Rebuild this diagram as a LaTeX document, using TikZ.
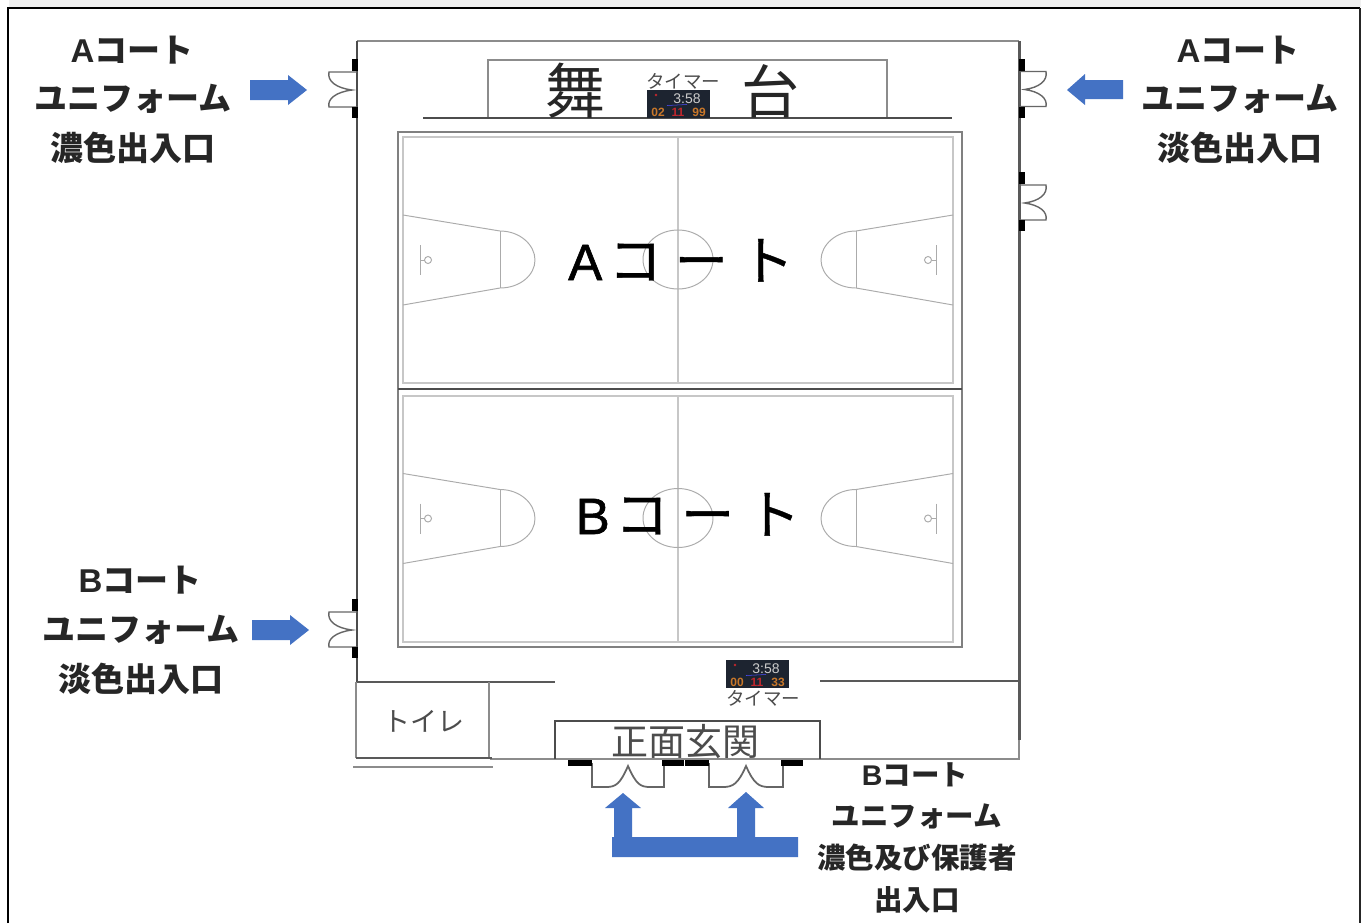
\documentclass[tikz,border=0pt]{standalone}
\usepackage{fontspec}
\setmainfont{Noto Sans CJK JP}
\newfontfamily\latinfont{Liberation Sans}
\newfontfamily\heavyfont[FakeBold=0.8]{Noto Sans CJK JP}
\newfontfamily\heavylatin[FakeBold=1.2]{Liberation Sans}
\definecolor{arrowblue}{HTML}{4472C4}
\definecolor{boardbg}{HTML}{1D2430}
\definecolor{boardor}{HTML}{C8772A}
\definecolor{boardred}{HTML}{C0272D}
\newcommand{\pxfont}[1]{\fontsize{\fpeval{#1*0.5691}pt}{\fpeval{#1*0.7}pt}\selectfont}
\newcommand{\bigcourt}[2]{{\heavylatin\pxfont{51}#1}\hspace{#2pt}{\heavyfont\pxfont{53}コ\hspace{7.4pt}ー\hspace{7.4pt}ト}}
\tikzset{
  x=0.02cm,y=-0.02cm,
  wall/.style={draw=black!70,line width=0.9pt},
  wallthin/.style={draw=black!45,line width=0.7pt},
  wallthick/.style={draw=black!65,line width=1.7pt},
  courtouter/.style={draw=black!50,line width=0.8pt},
  courtinner/.style={draw=black!22,line width=0.9pt},
  courtmark/.style={draw=black!33,line width=0.55pt},
  doorline/.style={draw=black!60,line width=0.8pt},
  doorbar/.style={fill=black},
  bluearrow/.style={fill=arrowblue},
  lab/.style={anchor=base,inner sep=0pt,font=\bfseries\pxfont{33},text=black!85},
  labsmall/.style={anchor=base,inner sep=0pt,font=\bfseries\pxfont{28.5},text=black!85},
  plain/.style={anchor=base,inner sep=0pt,text=black!80},
}
% half court: #1 = y shift, #2 = mirror factor
\newcommand{\halfcourt}[2]{%
  \begin{scope}[shift={(678,#1)},xscale=#2]
    \draw[courtmark] (-275,215) -- (-178,231) .. controls (-158,231) and (-143,245) .. (-143,260)
       .. controls (-143,275) and (-158,288) .. (-178,288) -- (-275,305);
    \draw[courtmark] (-178,231) -- (-178,288);
    \draw[courtmark] (-258,245) -- (-258,275);
    \draw[courtmark] (-250,260) circle [radius=3.5];
    \draw[courtmark] (-258,260) -- (-253.5,260);
  \end{scope}}
% side door, opening to the outside; #1,#2 origin, #3 x factor
\newcommand{\sidedoor}[3]{%
  \begin{scope}[shift={(#1,#2)},xscale=#3]
    \draw[doorline] (-1,-18) -- (-29,-18) .. controls (-31,-9) and (-22,-2) .. (-6,0)
       .. controls (-22,2) and (-31,9) .. (-29,17) -- (-1,17);
    \fill[doorbar] (-6,-31) rectangle (0,-19);
    \fill[doorbar] (-6,17) rectangle (0,28);
  \end{scope}}
% front door; #1 centre x, #2 half-width
\newcommand{\frontdoor}[2]{%
  \begin{scope}[shift={(#1,0)}]
    \draw[doorline,line width=1pt] (-#2,763) -- (-#2,787) -- (-#2+14,787) .. controls (-#2+24,787) and (-8,784) .. (0,766)
       .. controls (8,784) and (#2-24,787) .. (#2-14,787) -- (#2,787) -- (#2,763);
    \fill[doorbar] (-#2-24,760) rectangle (-#2,766);
    \fill[doorbar] (#2-2,760) rectangle (#2+20,766);
  \end{scope}}
% scoreboard: #1 name prefix, #2 left, #3 top, #4 bottom score left, #5 bottom score right
\newcommand{\scoreboard}[5]{%
  \begin{scope}[shift={(#2,#3)}]
    \fill[boardbg] (0,0) rectangle (63,28);
    \fill[boardred] (9,5) circle [radius=1.3];
    \draw[blue!70!white,line width=0.3pt] (20,15.5) -- (40,14.5);
    \node[anchor=base,inner sep=0pt,text=black!20,font=\latinfont\pxfont{14}] (#1clock) at (40,13) {3:58};
    \node[anchor=base,inner sep=0pt,text=boardor,font=\latinfont\bfseries\pxfont{12}] (#1left) at (11,26) {#4};
    \node[anchor=base,inner sep=0pt,text=boardred,font=\latinfont\bfseries\pxfont{12}] (#1mid) at (31,26) {11};
    \node[anchor=base,inner sep=0pt,text=boardor,font=\latinfont\bfseries\pxfont{12}] (#1right) at (52,26) {#5};
  \end{scope}}
\begin{document}
\begin{tikzpicture}
\useasboundingbox (0,0) rectangle (1365,923);
\fill[white] (0,0) rectangle (1365,923);
% page frame
\fill[black!6] (9,0) rectangle (1361,7);
\draw[black,line width=1.6pt] (8,923) -- (8,8) -- (1360,8);
\draw[black!85,line width=1.1pt] (1360,8) -- (1360,923);
% building
\draw[wallthin] (357,41) -- (1019,41);
\draw[wall] (357,41) -- (357,682);
\draw[wallthick] (1019,41) -- (1019,740);
\draw[wallthin] (1019,740) -- (1019,759) -- (490,759);
% stage
\draw[wallthin] (488,118) -- (488,60) -- (887,60) -- (887,118);
\draw[wall] (423,118) -- (952,118);
\node[plain,text=black!85,font=\pxfont{60}] (butai1) at (575,113) {舞};
\node[plain,text=black!85,font=\pxfont{58}] (butai2) at (770,113) {台};
\node[plain,text=black!70,font=\pxfont{18.5}] (timer1) at (683,88) {タイマー};
\scoreboard{sa}{647}{90}{02}{99}
% courts
\draw[courtouter] (398,132) rectangle (962,647);
\draw[courtinner] (403,137) rectangle (953,383);
\draw[courtinner] (403,396) rectangle (953,642);
\draw[courtinner] (678,137) -- (678,383);
\draw[courtinner] (678,396) -- (678,642);
\draw[draw=black!70,line width=1.3pt] (398,389) -- (962,389);
\draw[courtmark] (678,259.5) ellipse [x radius=35,y radius=29.5];
\draw[courtmark] (678,518) ellipse [x radius=35,y radius=29.5];
\halfcourt{0}{1}
\halfcourt{0}{-1}
\halfcourt{258.5}{1}
\halfcourt{258.5}{-1}
\node[plain,text=black] (courta) at (681,280) {\bigcourt{A}{3.7}};
\node[plain,text=black] (courtb) at (688,534) {\bigcourt{B}{3.1}};
% lower rooms
\draw[wallthick,line width=1.1pt] (357,682) -- (555,682);
\draw[wallthick,line width=1.1pt] (820,681) -- (1019,681);
\draw[wallthin] (356,682) -- (356,758);
\draw[wallthin,line width=1pt] (489,682) -- (489,758);
\draw[wallthick,line width=1.1pt] (356,758) -- (492,758);
\draw[wallthin] (353,767) -- (493,767);
\node[plain,text=black!70,font=\pxfont{27}] (toilet) at (424,731) {トイレ};
\draw[wall,line width=0.7pt] (555,759) -- (555,721) -- (820,721) -- (820,759);
\node[plain,text=black!70,font=\pxfont{37}] (genkan) at (685,755) {正面玄関};
\scoreboard{sb}{726}{660}{00}{33}
\node[plain,text=black!70,font=\pxfont{18.5}] (timer2) at (763,705) {タイマー};
% doors
\sidedoor{358}{90}{1}
\sidedoor{358}{630}{1}
\sidedoor{1019}{89.5}{-0.93}
\sidedoor{1019}{203}{-0.93}
\frontdoor{628}{36}
\frontdoor{746}{37}
% arrows
\fill[bluearrow] (250,80) -- (288,80) -- (288,75) -- (307,90) -- (288,105) -- (288,100) -- (250,100) -- cycle;
\fill[bluearrow] (252,620) -- (290,620) -- (290,615) -- (309,630) -- (290,645) -- (290,640) -- (252,640) -- cycle;
\fill[bluearrow] (1123,80) -- (1085,80) -- (1085,74) -- (1067,90) -- (1085,105) -- (1085,99) -- (1123,99) -- cycle;
\fill[bluearrow] (612,837) -- (614,837) -- (614,808) -- (605,808) -- (623,793) -- (641,808) -- (632,808) -- (632,837)
   -- (737,837) -- (737,808) -- (728,808) -- (746,792) -- (764,808) -- (755,808) -- (755,837) -- (798,837) -- (798,857) -- (612,857) -- cycle;
% labels
\node[lab] (la1) at (132,62) {{\latinfont\bfseries A}コート};
\node[lab] (la2) at (133,110) {ユニフォーム};
\node[lab] (la3) at (133,160) {濃色出入口};
\node[lab] (ra1) at (1238,62) {{\latinfont\bfseries A}コート};
\node[lab] (ra2) at (1240,110) {ユニフォーム};
\node[lab] (ra3) at (1240,160) {淡色出入口};
\node[lab] (lb1) at (140,592) {{\latinfont\bfseries B}コート};
\node[lab] (lb2) at (141,641) {ユニフォーム};
\node[lab] (lb3) at (141,691) {淡色出入口};
\node[labsmall] (bb1) at (915,785) {{\latinfont\bfseries B}コート};
\node[labsmall] (bb2) at (917,826) {ユニフォーム};
\node[labsmall] (bb3) at (917,868) {濃色及び保護者};
\node[labsmall] (bb4) at (917,910) {出入口};
\end{tikzpicture}
\end{document}
